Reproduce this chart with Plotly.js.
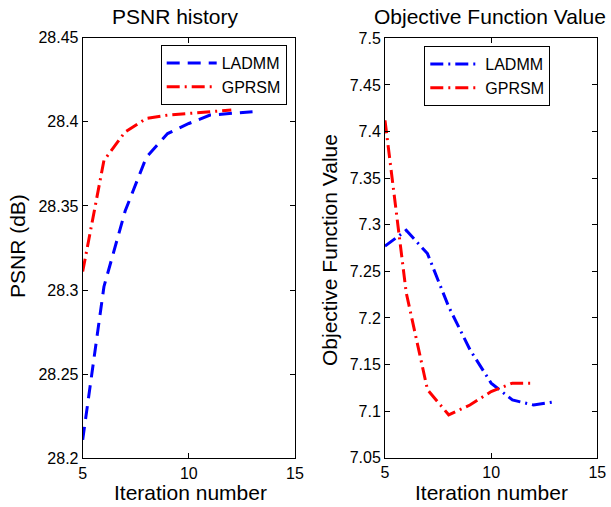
<!DOCTYPE html>
<html>
<head>
<meta charset="utf-8">
<script src="https://cdn.plot.ly/plotly-3.0.1.min.js"></script>
<style>html,body{margin:0;padding:0;background:#fff;}#chart{width:611px;height:507px;}</style>
</head>
<body>
<div id="chart"></div>
<script>
// ---- data ----
const iterLadmm = [5, 6, 7, 8, 9, 10, 11, 12, 13];
const iterGprsm = [5, 6, 7, 8, 9, 10, 11, 12];
const psnrLadmm = [28.211, 28.302, 28.347, 28.379, 28.393, 28.399, 28.404, 28.405, 28.406];
const psnrGprsm = [28.311, 28.377, 28.394, 28.402, 28.404, 28.405, 28.406, 28.407];
const objLadmm = [7.277, 7.294, 7.269, 7.212, 7.166, 7.130, 7.112, 7.1065, 7.110];
const objGprsm = [7.412, 7.227, 7.123, 7.096, 7.1065, 7.121, 7.130, 7.130];
const seriesNames = ['LADMM', 'GPRSM'];
const xTicks = [5, 10, 15];
const psnrTicks = [28.2, 28.25, 28.3, 28.35, 28.4, 28.45];
const psnrTickText = ['28.2', '28.25', '28.3', '28.35', '28.4', '28.45'];
const objTicks = [7.05, 7.1, 7.15, 7.2, 7.25, 7.3, 7.35, 7.4, 7.45, 7.5];
const objTickText = ['7.05', '7.1', '7.15', '7.2', '7.25', '7.3', '7.35', '7.4', '7.45', '7.5'];
const titles = ['PSNR history', 'Objective Function Value'];
const xTitle = 'Iteration number';
const yTitles = ['PSNR (dB)', 'Objective Function Value'];

// ---- styling ----
const W = 611, H = 507;
const FONT = '"Liberation Sans", Arial, Helvetica, sans-serif';
const BLUE = '#0000ff', RED = '#ff0000';
const dashed = '13px,8px';
const dashDot = '13px,5px,2px,5px';
const px = v => v / W;
const py = v => 1 - v / H;

const traces = [
  {x: iterLadmm, y: psnrLadmm, name: seriesNames[0], mode: 'lines', xaxis: 'x', yaxis: 'y', legend: 'legend',
   line: {color: BLUE, width: 3, dash: dashed}},
  {x: iterGprsm, y: psnrGprsm, name: seriesNames[1], mode: 'lines', xaxis: 'x', yaxis: 'y', legend: 'legend',
   line: {color: RED, width: 3, dash: dashDot}},
  {x: iterLadmm, y: objLadmm, name: seriesNames[0], mode: 'lines', xaxis: 'x2', yaxis: 'y2', legend: 'legend2',
   line: {color: BLUE, width: 3, dash: dashDot}},
  {x: iterGprsm, y: objGprsm, name: seriesNames[1], mode: 'lines', xaxis: 'x2', yaxis: 'y2', legend: 'legend2',
   line: {color: RED, width: 3, dash: dashDot}}
];

function axisBase() {
  return {
    showline: true, linecolor: '#000', linewidth: 1, mirror: 'allticks',
    ticks: 'inside', ticklen: 5, tickcolor: '#000', tickwidth: 1,
    showgrid: false, zeroline: false, fixedrange: true,
    tickfont: {family: FONT, size: 16, color: '#000'}
  };
}

const legendFont = {family: FONT, size: 16, color: '#000'};
const titleFont = {family: FONT, size: 21, color: '#000'};

const layout = {
  width: W, height: H,
  margin: {l: 0, r: 0, t: 0, b: 0},
  paper_bgcolor: '#fff', plot_bgcolor: '#fff',
  font: {family: FONT, color: '#000'},
  showlegend: true,
  xaxis: Object.assign(axisBase(), {domain: [px(82.7), px(295)], range: [5, 15], tickmode: 'array', tickvals: xTicks, anchor: 'y'}),
  yaxis: Object.assign(axisBase(), {domain: [py(458.3), py(37.7)], range: [28.2, 28.45], tickmode: 'array', tickvals: psnrTicks, ticktext: psnrTickText, anchor: 'x'}),
  xaxis2: Object.assign(axisBase(), {domain: [px(385), px(597.3)], range: [5, 15], tickmode: 'array', tickvals: xTicks, anchor: 'y2'}),
  yaxis2: Object.assign(axisBase(), {domain: [py(457.7), py(38.3)], range: [7.05, 7.5], tickmode: 'array', tickvals: objTicks, ticktext: objTickText, anchor: 'x2'}),
  legend: {x: px(286.7), xanchor: 'right', y: py(45), yanchor: 'top', bgcolor: '#fff', bordercolor: '#000', borderwidth: 1,
           font: legendFont, itemwidth: 50, tracegroupgap: 0},
  legend2: {x: px(424.3), xanchor: 'left', y: py(46), yanchor: 'top', bgcolor: '#fff', bordercolor: '#000', borderwidth: 1,
            font: legendFont, itemwidth: 50, tracegroupgap: 0},
  annotations: [
    {text: titles[0], xref: 'paper', yref: 'paper', x: px(175), y: py(3), xanchor: 'center', yanchor: 'top', showarrow: false, font: titleFont},
    {text: titles[1], xref: 'paper', yref: 'paper', x: px(490), y: py(3), xanchor: 'center', yanchor: 'top', showarrow: false, font: titleFont},
    {text: xTitle, xref: 'paper', yref: 'paper', x: px(190), y: py(506), xanchor: 'center', yanchor: 'bottom', showarrow: false, font: titleFont},
    {text: xTitle, xref: 'paper', yref: 'paper', x: px(491), y: py(506), xanchor: 'center', yanchor: 'bottom', showarrow: false, font: titleFont},
    {text: yTitles[0], xref: 'paper', yref: 'paper', x: px(17), y: py(246), xanchor: 'center', yanchor: 'middle', textangle: -90, showarrow: false, font: titleFont},
    {text: yTitles[1], xref: 'paper', yref: 'paper', x: px(329), y: py(250), xanchor: 'center', yanchor: 'middle', textangle: -90, showarrow: false, font: titleFont}
  ]
};

Plotly.newPlot('chart', traces, layout, {displayModeBar: false, staticPlot: true});
</script>
</body>
</html>
